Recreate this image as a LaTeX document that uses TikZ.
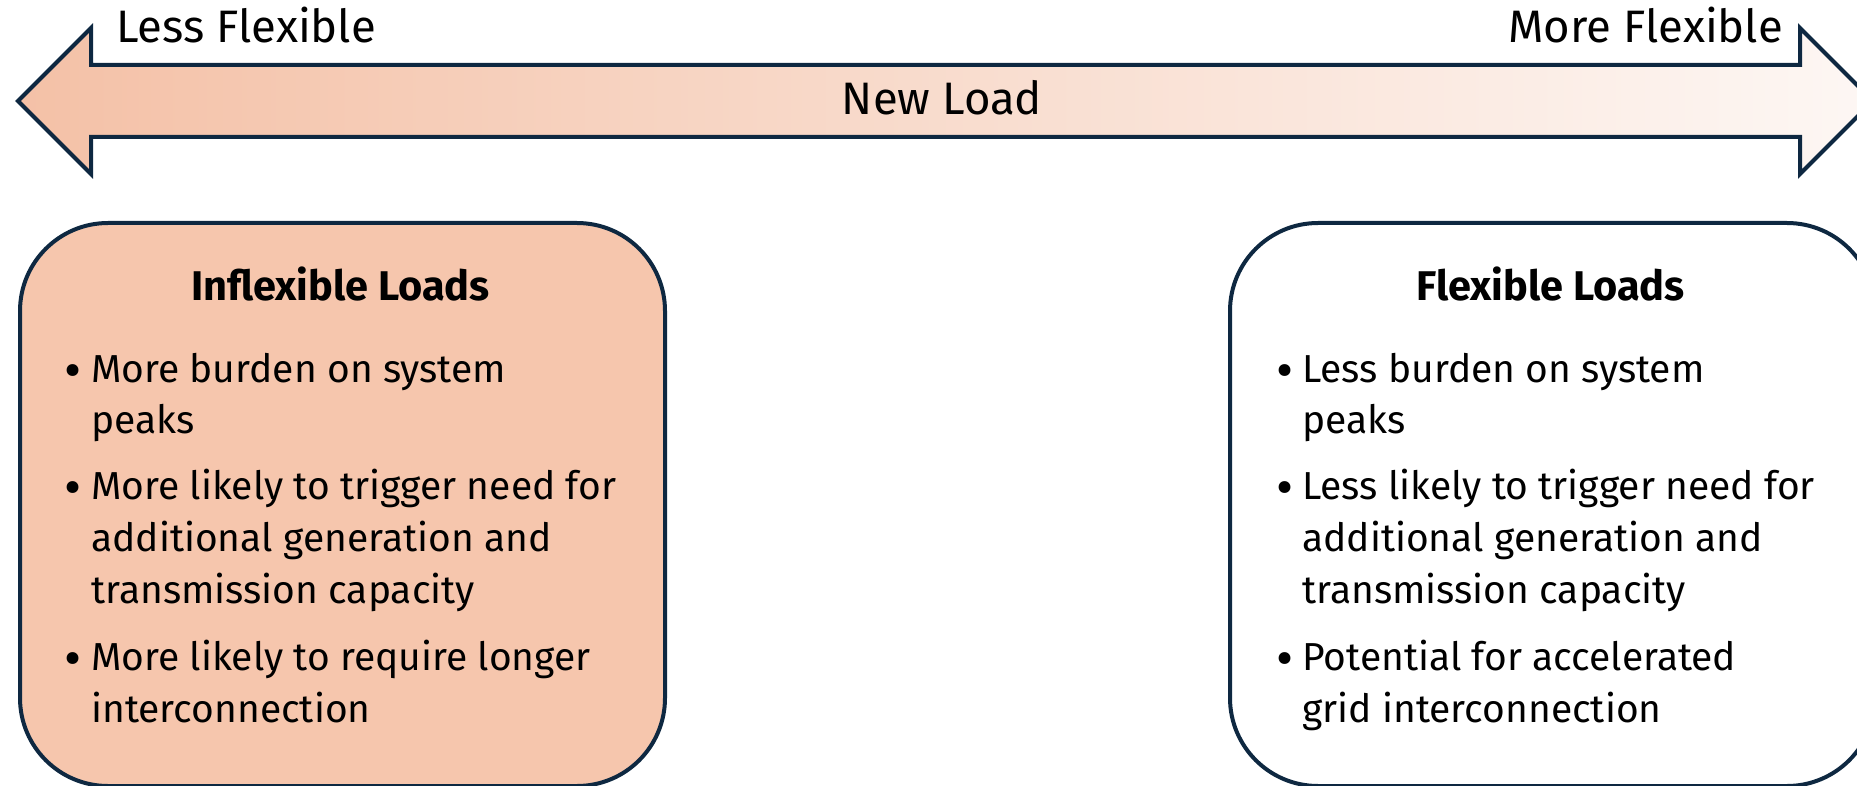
\documentclass[tikz,border=0pt]{standalone}
\usepackage{fontspec}
\setmainfont{Fira Sans}
\definecolor{navy}{HTML}{0E2841}
\definecolor{peach}{HTML}{F6C6AD}
\definecolor{arrL}{HTML}{F4C1A7}
\definecolor{arrR}{HTML}{FDF7F4}
\newcommand\labfont{\fontsize{45.5}{52}\selectfont}
\newcommand\bodyfont{\fontsize{39}{52}\selectfont}
\newcommand\titlefont{\fontsize{41.5}{52}\selectfont\bfseries}
\newcommand\bul{\raisebox{-6pt}{\scalebox{1.35}{•}}}
\begin{document}
\begin{tikzpicture}[x=1pt,y=-1pt,
  outline/.style={draw=navy, line width=4pt},
  loadbox/.style={outline, rounded corners=88pt, minimum width=645pt, minimum height=563pt, anchor=north west, inner sep=0pt},
  lab/.style={font=\labfont, inner sep=0pt, text=black},
  boxtitle/.style={font=\titlefont, inner sep=0pt, anchor=base},
  line/.style={font=\bodyfont, inner sep=0pt, anchor=base west},
  dot/.style={font=\bodyfont, inner sep=0pt, anchor=base}]
\useasboundingbox (0,0) rectangle (1857,786);
\clip (0,0) rectangle (1857,786);
% double arrow
\draw[outline, line join=miter, left color=arrL, right color=arrR]
  (18,101) -- (91,28) -- (91,65) -- (1800,65) -- (1800,28) -- (1873,101)
  -- (1800,174) -- (1800,137) -- (91,137) -- (91,174) -- cycle;
\node[lab, anchor=base west] (less) at (116,43) {Less Flexible};
\node[lab, anchor=base east] (more) at (1783,43) {More Flexible};
\node[lab, anchor=base] (new) at (942,115) {New Load};
% boxes
\node[loadbox, fill=peach] (inflex) at (18,221) {};
\node[loadbox, fill=white] (flex) at (1228,221) {};
\node[boxtitle] (t1) at (340.5,300) {Inflexible Loads};
\node[boxtitle] (t2) at (1550.5,300) {Flexible Loads};
% left box bullets
\node[dot] (lb1) at (73,382) {\bul};
\node[line] (l1a) at (91,382) {More burden on system};
\node[line] (l1b) at (91,433) {peaks};
\node[dot] (lb2) at (73,499) {\bul};
\node[line] (l2a) at (91,499) {More likely to trigger need for};
\node[line] (l2b) at (91,551) {additional generation and};
\node[line] (l2c) at (91,603) {transmission capacity};
\node[dot] (lb3) at (73,670) {\bul};
\node[line] (l3a) at (91,670) {More likely to require longer};
\node[line] (l3b) at (91,722) {interconnection};
% right box bullets
\node[dot] (rb1) at (1285,382) {\bul};
\node[line] (r1a) at (1302,382) {Less burden on system};
\node[line] (r1b) at (1302,433) {peaks};
\node[dot] (rb2) at (1285,499) {\bul};
\node[line] (r2a) at (1302,499) {Less likely to trigger need for};
\node[line] (r2b) at (1302,551) {additional generation and};
\node[line] (r2c) at (1302,603) {transmission capacity};
\node[dot] (rb3) at (1285,670) {\bul};
\node[line] (r3a) at (1302,670) {Potential for accelerated};
\node[line] (r3b) at (1302,722) {grid interconnection};
\end{tikzpicture}
\end{document}
